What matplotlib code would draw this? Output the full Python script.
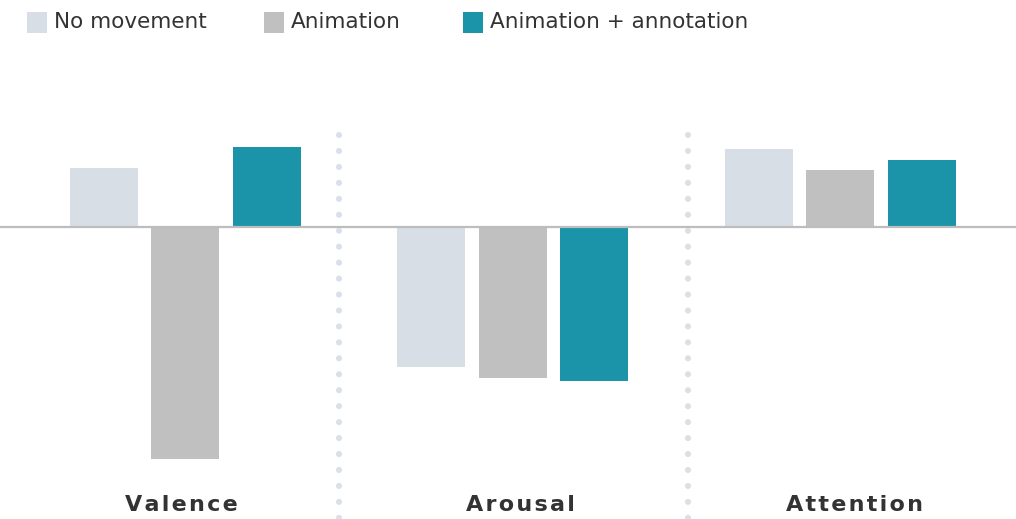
import matplotlib
matplotlib.use("Agg")
import matplotlib.pyplot as plt
from matplotlib.patches import Rectangle
import numpy as np

# data
groups = ["Valence", "Arousal", "Attention"]
series = ["No movement", "Animation", "Animation + annotation"]
no_movement = [0.59, -1.40, 0.78]
animation = [-2.32, -1.51, 0.57]
annotation = [0.80, -1.54, 0.67]
colors = ["#d7dee6", "#c0c0c0", "#1b94aa"]

W, H = 1016, 519
fig = plt.figure(figsize=(W / 100, H / 100), dpi=100)
ax = fig.add_axes([0, 0, 1, 1])

# group spacing in px ~327.5, bar step ~81.5px, bar width ~68px
x = np.arange(len(groups))
step = 81.5 / 327.5
width = 68 / 327.5
for i, (vals, col) in enumerate(zip([no_movement, animation, annotation], colors)):
    ax.bar(x + (i - 1) * step, vals, width=width, color=col, zorder=2)

ax.set_xlim(-185 / 327.5, 2 + (W - 840) / 327.5)
ax.set_ylim(-2.92, 2.27)
ax.axhline(0, color="#bdbdbd", lw=1.6, zorder=3)

# dotted separators
for sx in [(339 - 185) / 327.5, (687.5 - 185) / 327.5]:
    ax.plot([sx, sx], [0.92, -2.95], color="#dae0e8", lw=4.4,
            dashes=(0.01, 2.6), dash_capstyle="round", zorder=1)

# group labels, slightly off-centre as in the original
label_px = [181, 520, 855]
for px, g in zip(label_px, groups):
    ax.text((px - 185) / 327.5, -2.78, "\u200a".join(g), ha="center", va="center",
            fontsize=16, fontweight="bold", color="#333333")

# legend drawn by hand
leg_px = [27, 264, 463]
for px, lab, col in zip(leg_px, series, colors):
    fig.patches.append(Rectangle((px / W, 1 - 33 / H), 20 / W, 21 / H,
                                 transform=fig.transFigure, facecolor=col,
                                 edgecolor="none"))
    fig.text((px + 27) / W, 1 - 22.5 / H, lab, ha="left", va="center",
             fontsize=15.5, color="#333333")

ax.axis("off")
fig.savefig("out.png", dpi=100)
